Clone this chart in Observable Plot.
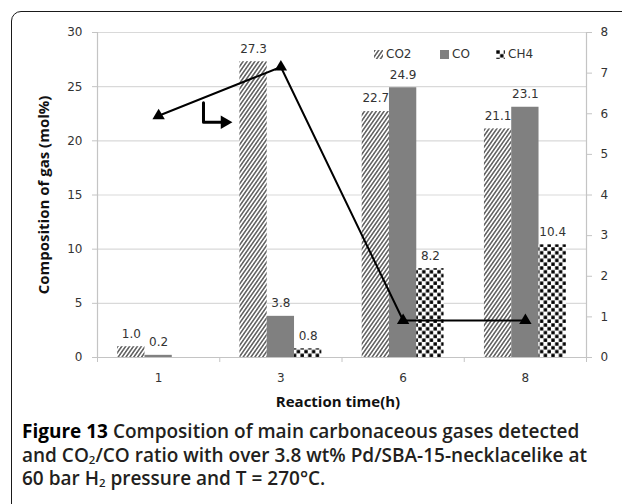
<!DOCTYPE html>
<html>
<head>
<meta charset="utf-8">
<script src="https://cdn.jsdelivr.net/npm/d3@7"></script>
<script src="https://cdn.jsdelivr.net/npm/@observablehq/plot@0.6"></script>
<style>
  html, body { margin: 0; padding: 0; background: #fff; }
  #wrap { position: relative; width: 622px; height: 504px; overflow: hidden; }
  #box { position: absolute; left: 11px; top: 11px; width: 700px; height: 600px;
         border: 1.6px solid #1a1a1a; border-radius: 10px; box-sizing: border-box; }
  #chart { position: absolute; left: 0; top: 0; }
  #legend { position: absolute; top: 47px; left: 374px; font: 12px "DejaVu Sans", sans-serif; color: #333; }
  .li { position: absolute; white-space: nowrap; display: flex; align-items: center; }
  .li svg { margin-right: 3px; }
  #caption { position: absolute; left: 22px; top: 420px; font-family: "Open Sans", sans-serif;
             font-weight: 600; font-size: 19px; line-height: 23.5px; color: #231f20; white-space: nowrap; }
  #caption b { font-weight: 700; color: #000; }
  #caption sub { font-size: 0.6em; vertical-align: -0.18em; line-height: 0; }
</style>
</head>
<body>
<svg width="0" height="0" style="position:absolute">
  <defs>
    <pattern id="hatch" patternUnits="userSpaceOnUse" width="3.2" height="6" patternTransform="rotate(35)">
      <rect width="3.2" height="6" fill="#fff"/>
      <line x1="0.8" y1="0" x2="0.8" y2="6" stroke="#333" stroke-width="1.2"/>
    </pattern>
    <pattern id="checker" patternUnits="userSpaceOnUse" width="7.6" height="7.6">
      <rect width="7.6" height="7.6" fill="#fff"/>
      <rect x="0.3" y="0.3" width="3.4" height="3.4" fill="#000"/>
      <rect x="4.1" y="4.1" width="3.4" height="3.4" fill="#000"/>
    </pattern>
  </defs>
</svg>
<div id="wrap">
  <div id="box"></div>
  <div id="chart"></div>
  <div id="legend"></div>
  <div id="caption">
    <b>Figure 13</b> Composition of main carbonaceous gases detected<br>
    and CO<sub>2</sub>/CO ratio with over 3.8 wt% Pd/SBA-15-necklacelike at<br>
    60 bar H<sub>2</sub> pressure and T = 270°C.
  </div>
</div>
<script>
// ---- data ----
const times = ["1", "3", "6", "8"];
const seriesNames = ["CO2", "CO", "CH4"];
const co2 = [1.0, 27.3, 22.7, 21.1];
const co = [0.2, 3.8, 24.9, 23.1];
const ch4 = [0.0, 0.8, 8.2, 10.4];
const ratio = [5.95, 7.15, 0.91, 0.91];          // CO2/CO ratio, right axis
const leftTicks = [0, 5, 10, 15, 20, 25, 30];
const rightTicks = [0, 1, 2, 3, 4, 5, 6, 7, 8];
// annotation arrow (x in category index units, y in right-axis units)
const arrowPath = [{x: 0.367, y: 6.27}, {x: 0.367, y: 5.79}, {x: 0.54, y: 5.79}];

// ---- styles ----
const fills = {CO2: "url(#hatch)", CO: "#808080", CH4: "url(#checker)"};
const leftMax = 30, rightMax = 8, ratioScale = leftMax / rightMax;
const groupWidth = 0.67, barW = groupWidth / 3;

const seriesValues = {CO2: co2, CO: co, CH4: ch4};
const rows = [];
seriesNames.forEach((s, k) => {
  times.forEach((t, i) => {
    const x1 = i + (k - 1.5) * barW;
    rows.push({series: s, i, x1, x2: x1 + barW, xm: x1 + barW / 2, value: seriesValues[s][i]});
  });
});
const ratioRows = times.map((t, i) => ({i, v: ratio[i] * ratioScale}));
const arrowRows = arrowPath.map(d => ({x: d.x, y: d.y * ratioScale}));

const gray = "#c4c4c4";
const plot = Plot.plot({
  width: 622,
  height: 420,
  marginLeft: 97,
  marginRight: 36,
  marginTop: 32,
  marginBottom: 63,
  style: {fontFamily: "DejaVu Sans, sans-serif", fontSize: "12px", color: "#333", background: "transparent"},
  x: {domain: [-0.5, times.length - 0.5], axis: null},
  y: {domain: [0, leftMax], axis: null},
  marks: [
    Plot.ruleY(leftTicks.slice(1), {stroke: "#d9d9d9", strokeWidth: 1.2}),
    Plot.ruleY([0], {stroke: gray, strokeWidth: 1.2}),
    Plot.ruleX([-0.5, times.length - 0.5], {y1: 0, y2: leftMax, stroke: gray, strokeWidth: 1.2}),
    Plot.axisY(leftTicks, {anchor: "left", tickSize: 5, tickPadding: 10, stroke: gray, fill: "#333", label: null}),
    Plot.axisY(rightTicks.map(v => v * ratioScale), {anchor: "right", tickSize: 5, tickPadding: 9, stroke: gray, fill: "#333",
      tickFormat: d => String(Math.round(d / ratioScale)), label: null}),
    Plot.axisX(d3.range(times.length + 1).map(i => i - 0.5), {anchor: "bottom", tickSize: 5, stroke: gray, tickFormat: () => "", label: null}),
    Plot.axisX(d3.range(times.length), {anchor: "bottom", tickSize: 0, tickPadding: 16, fill: "#333", tickFormat: i => times[i], label: null}),
    ...seriesNames.map(s => Plot.rectY(rows.filter(d => d.series === s), {x1: "x1", x2: "x2", y: "value", fill: fills[s]})),
    Plot.text(rows.filter(d => d.value > 0), {x: "xm", y: "value", text: d => d.value.toFixed(1), dy: -13, fill: "#333"}),
    Plot.line(ratioRows, {x: "i", y: "v", stroke: "#000", strokeWidth: 2}),
    Plot.dot(ratioRows, {x: "i", y: "v", symbol: "triangle", r: 4.6, fill: "#000", stroke: null}),
    Plot.line(arrowRows, {x: "x", y: "y", stroke: "#000", strokeWidth: 3}),
    Plot.dot(arrowRows.slice(-1), {x: "x", y: "y", symbol: "triangle", r: 5, rotate: 90, fill: "#000", stroke: null}),
    Plot.text(["Composition of gas (mol%)"], {frameAnchor: "left", textAnchor: "middle", rotate: -90, dx: -53, fontWeight: "bold", fontSize: 15, fill: "#111", fontFamily: "Open Sans"}),
    Plot.text(["Reaction time(h)"], {frameAnchor: "bottom", dy: 49, dx: -4, fontWeight: "bold", fontSize: 15, fill: "#111", fontFamily: "Open Sans"})
  ]
});
document.getElementById("chart").appendChild(plot);

// legend
const legendPos = {CO2: 0, CO: 66, CH4: 122};
const legend = document.getElementById("legend");
seriesNames.forEach(s => {
  const el = document.createElement("div");
  el.className = "li";
  el.style.left = legendPos[s] + "px";
  el.innerHTML = `<svg width="9" height="9"><rect width="9" height="9" fill="${fills[s]}"/></svg><span>${s}</span>`;
  legend.appendChild(el);
});
</script>
</body>
</html>
